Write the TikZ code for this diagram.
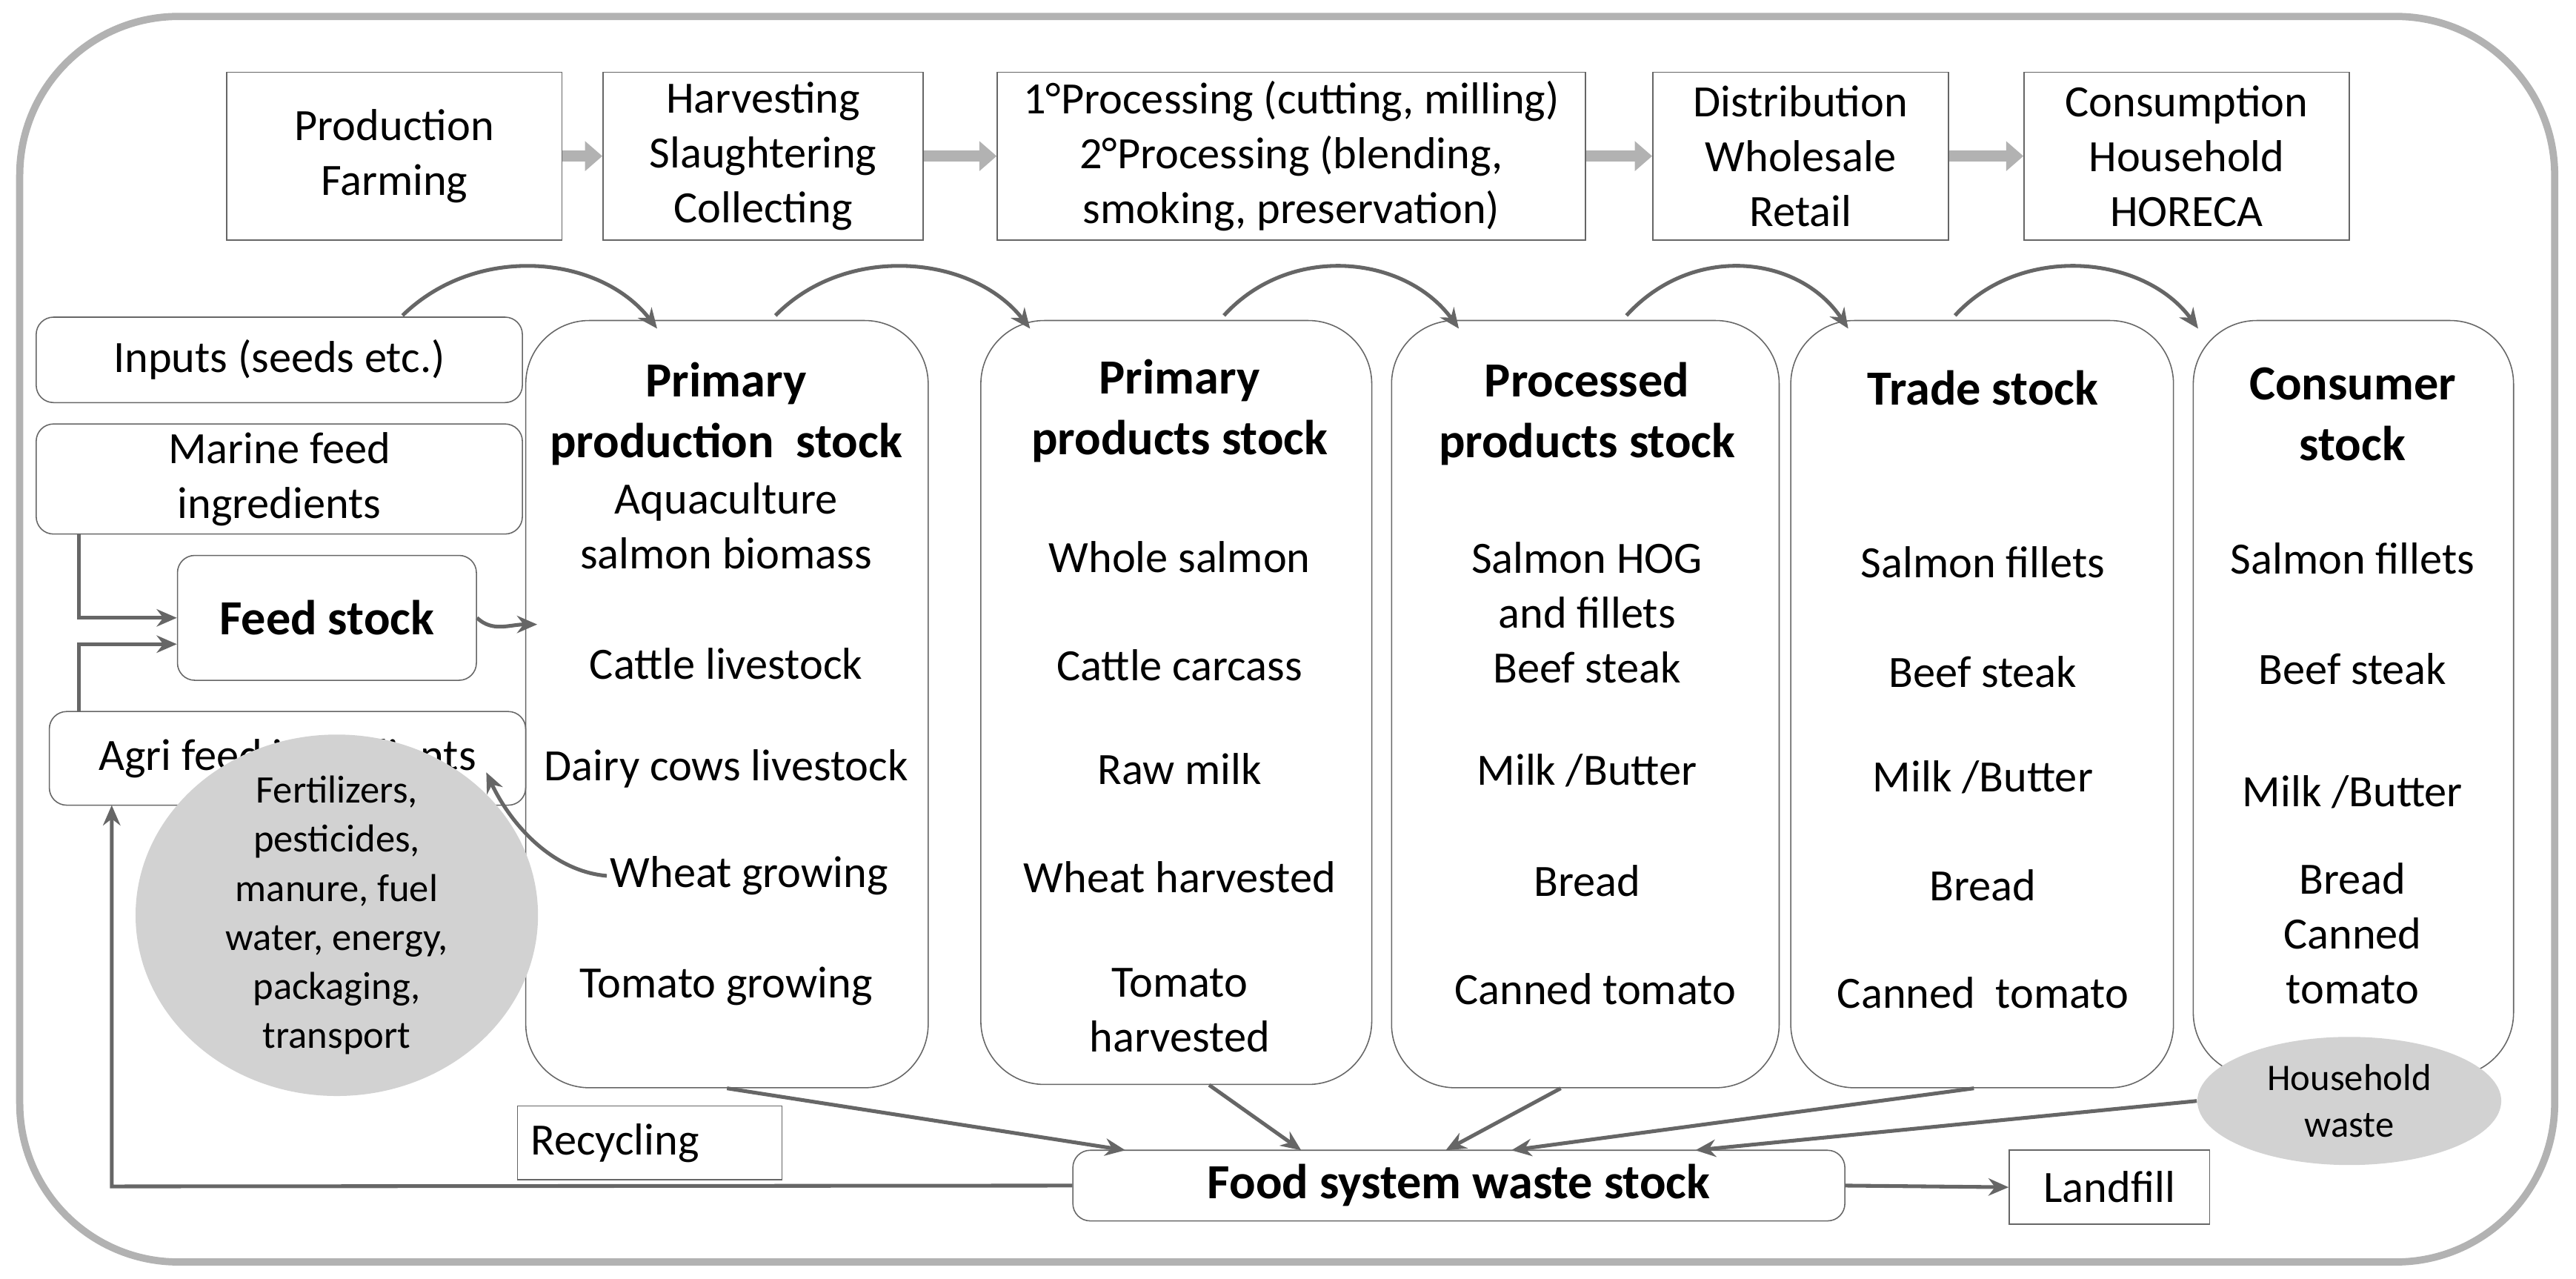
\documentclass[tikz,border=0pt]{standalone}
\usepackage{fontspec}
\setmainfont{Carlito}
\usetikzlibrary{arrows.meta}
\usetikzlibrary{shapes.geometric}

\begin{document}
\begin{tikzpicture}[x=0.02cm, y=-0.02cm, >={Stealth[length=7pt,width=6pt]},
    font=\fontsize{15.5}{19}\selectfont]
    \tikzset{
        stage/.style={draw=gray!80!black, thin, align=center, inner sep=0pt},
        stock/.style={draw=gray!80!black, rounded corners=22pt, inner sep=0pt},
        side/.style={draw=gray!80!black, rounded corners=6pt, align=center, inner sep=0pt},
        item/.style={align=center, inner sep=1pt},
        blob/.style={ellipse, fill=gray!35, inner sep=0pt},
        flow/.style={->, draw=gray!80!black, line width=1.3pt},
        chain arrow/.style={-{Triangle[length=6pt,width=10pt]}, draw=gray!60, line width=4pt}
    }
    \useasboundingbox (0,0) rectangle (1568,778);
    \draw [gray!60, line width=2.5pt, rounded corners=55pt] (12,10) rectangle (1555,768);

    % stages along the chain
    \node [stage, minimum width=4.08cm, minimum height=2.04cm] (farm) at (240,95) {Production\\Farming};
    \node [stage, minimum width=3.9cm, minimum height=2.04cm] (harv) at (464.5,95) {Harvesting\\Slaughtering\\Collecting};
    \node [stage, minimum width=7.16cm, minimum height=2.04cm] (proc) at (786,95) {1°Processing (cutting, milling)\\2°Processing (blending,\\smoking, preservation)};
    \node [stage, minimum width=3.6cm, minimum height=2.04cm] (dist) at (1096,95) {Distribution\\Wholesale\\Retail};
    \node [stage, minimum width=3.96cm, minimum height=2.04cm] (cons) at (1331,95) {Consumption\\Household\\HORECA};
    \draw [chain arrow] (farm.east) -- (harv.west);
    \draw [chain arrow] (harv.east) -- (proc.west);
    \draw [chain arrow] (proc.east) -- (dist.west);
    \draw [chain arrow] (dist.east) -- (cons.west);

    % stocks
    \node [stock, minimum width=4.9cm, minimum height=9.34cm] (pps) at (442.5,428.5) {};
    \node [stock, minimum width=4.76cm, minimum height=9.3cm] (prs) at (716,427.5) {};
    \node [stock, minimum width=4.72cm, minimum height=9.34cm] (pcs) at (965,428.5) {};
    \node [stock, minimum width=4.66cm, minimum height=9.34cm] (trs) at (1206.5,428.5) {};
    \node [stock, minimum width=3.9cm, minimum height=9.2cm] (cns) at (1432.5,425) {};

    \node [item, font=\fontsize{17}{21}\selectfont\bfseries] (pps t) at (442,252) {Primary\\production~~stock};
    \node [item] (pps a) at (442,320) {Aquaculture\\salmon biomass};
    \node [item] (pps b) at (442,404) {Cattle livestock};
    \node [item] (pps c) at (442,468) {Dairy cows livestock};
    \node [item] (pps d) at (456,533) {Wheat growing};
    \node [item] (pps e) at (442,600) {Tomato growing};

    \node [item, font=\fontsize{17}{21}\selectfont\bfseries] (prs t) at (718,250) {Primary\\products stock};
    \node [item] (prs a) at (718,339) {Whole salmon};
    \node [item] (prs b) at (718,405) {Cattle carcass};
    \node [item] (prs c) at (718,468) {Raw milk};
    \node [item] (prs d) at (718,534) {Wheat harvested};
    \node [item] (prs e) at (718,615) {Tomato\\harvested};

    \node [item, font=\fontsize{17}{21}\selectfont\bfseries] (pcs t) at (966,252) {Processed\\products stock};
    \node [item] (pcs a) at (966,373) {Salmon HOG\\and fillets\\Beef steak};
    \node [item] (pcs b) at (966,469) {Milk /Butter};
    \node [item] (pcs c) at (966,536) {Bread};
    \node [item] (pcs d) at (971,602) {Canned tomato};

    \node [item, font=\fontsize{17}{21}\selectfont\bfseries] (trs t) at (1207,236) {Trade stock};
    \node [item] (trs a) at (1207,342) {Salmon fillets};
    \node [item] (trs b) at (1207,409) {Beef steak};
    \node [item] (trs c) at (1207,473) {Milk /Butter};
    \node [item] (trs d) at (1207,539) {Bread};
    \node [item] (trs e) at (1207,604) {Canned~ tomato};

    \node [item, font=\fontsize{17}{21}\selectfont\bfseries] (cns t) at (1432,252) {Consumer\\stock};
    \node [item] (cns a) at (1432,340) {Salmon fillets};
    \node [item] (cns b) at (1432,407) {Beef steak};
    \node [item] (cns c) at (1432,482) {Milk /Butter};
    \node [item] (cns d) at (1432,568) {Bread\\Canned\\tomato};

    % curved links from stages to stocks
    \draw [flow] (245,192) .. controls (290,148) and (365,155) .. (400,200);
    \draw [flow] (472,192) .. controls (515,148) and (592,155) .. (627,200);
    \draw [flow] (745,192) .. controls (785,148) and (855,155) .. (888,200);
    \draw [flow] (990,192) .. controls (1030,148) and (1095,155) .. (1125,200);
    \draw [flow] (1190,192) .. controls (1230,148) and (1305,155) .. (1338,200);

    % feed side
    \node [side, minimum width=5.92cm, minimum height=1.04cm] (inp) at (170,219) {Inputs (seeds etc.)};
    \node [side, minimum width=5.92cm, minimum height=1.34cm] (mar) at (170,291.5) {Marine feed\\ingredients};
    \node [side, minimum width=3.64cm, minimum height=1.52cm, font=\fontsize{17}{21}\selectfont\bfseries] (feed) at (199,376) {Feed stock};
    \node [side, minimum width=5.8cm, minimum height=1.14cm] (agri) at (175,461.5) {Agri feed ingredients};
    \coordinate (mar out) at (48,325);
    \coordinate (agri out) at (48,433);
    \draw [flow] (mar out) |- (feed.west);
    \draw [flow] (agri out) |- ([yshift=-0.32cm]feed.west);
    \draw [flow] (feed.east) .. controls (300,385) and (310,380) .. (327,380);
    \draw [flow] (pps d.west) .. controls (335,530) and (310,500) .. (296,470);

    \node [blob, minimum width=4.9cm, minimum height=4.4cm] (fert) at (205,557) {};
    \node [item, font=\fontsize{13.5}{17}\selectfont] (fert t) at (fert) {Fertilizers,\\pesticides,\\manure, fuel\\water, energy,\\packaging,\\transport};

    % waste
    \node [side, minimum width=9.4cm, minimum height=0.86cm, font=\fontsize{17}{21}\selectfont\bfseries] (waste) at (888,721.5) {Food system waste stock};
    \node [stage, minimum width=3.22cm, minimum height=0.9cm, text width=2.9cm, align=left] (recy) at (395.5,695.5) {Recycling};
    \node [stage, minimum width=2.44cm, minimum height=0.9cm] (land) at (1284,722.5) {Landfill};
    \node [blob, minimum width=3.7cm, minimum height=1.56cm] (hw) at (1430,670) {};
    \node [item, font=\fontsize{13}{16}\selectfont] (hw t) at (hw) {Household\\waste};

    \draw [flow] (pps.south) -- (685,700);
    \draw [flow] ([xshift=0.4cm]prs.south) -- (792,700);
    \draw [flow] ([xshift=-0.3cm]pcs.south) -- (880,700);
    \draw [flow] ([xshift=-0.1cm]trs.south) -- (920,700);
    \draw [flow] (hw.west) -- (1032,700);
    \draw [flow] (waste.east) -- (land.west);
    \draw [flow] (waste.west) -- (68,722) -- (68,490);
\end{tikzpicture}
\end{document}
